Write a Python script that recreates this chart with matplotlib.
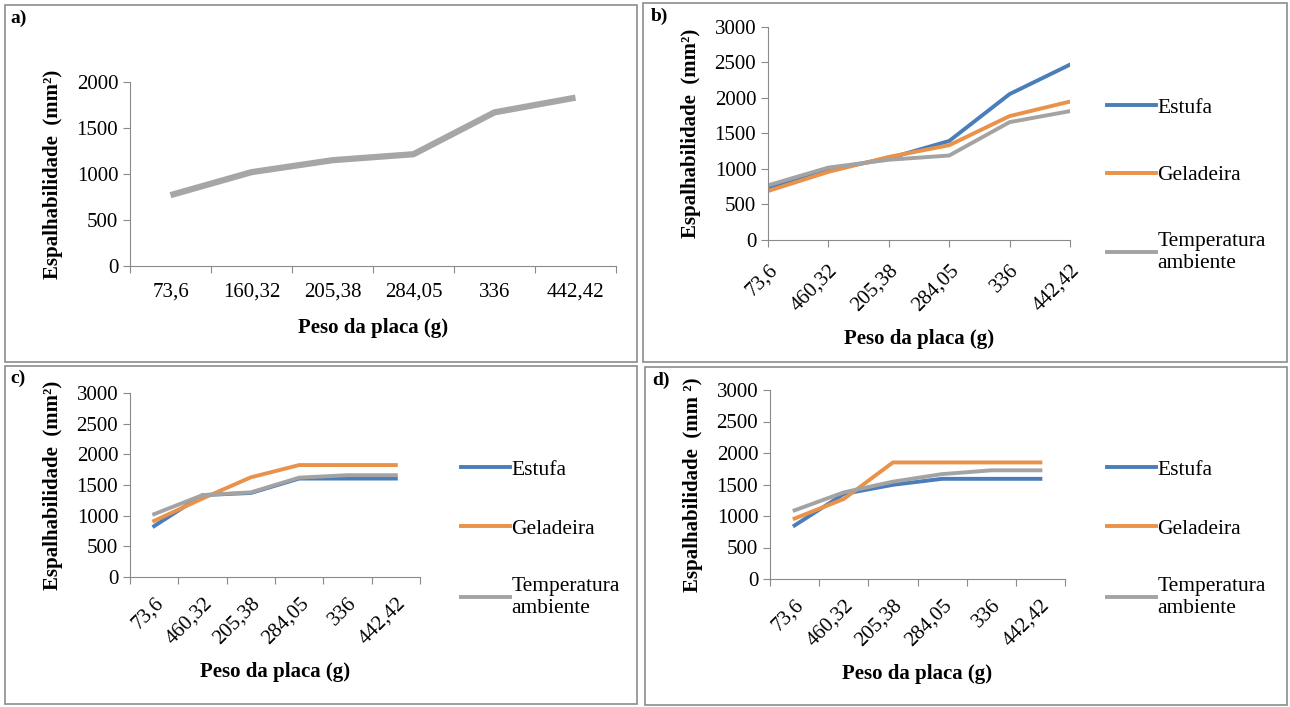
import matplotlib.pyplot as plt
import matplotlib.patches as patches
import numpy as np

# Data
pesos_a = ['73,6', '160,32', '205,38', '284,05', '336', '442,42']
pesos_bcd = ['73,6', '460,32', '205,38', '284,05', '336', '442,42']
series_names = ['Estufa', 'Geladeira', 'Temperatura\nambiente']

espalh_a = [770, 1020, 1150, 1215, 1670, 1830]

estufa_b = [740, 990, 1150, 1395, 2055, 2470]
geladeira_b = [690, 960, 1170, 1335, 1745, 1950]
temp_b = [770, 1020, 1130, 1190, 1660, 1815]

estufa_c = [830, 1335, 1370, 1605, 1605, 1605]
geladeira_c = [915, 1280, 1625, 1825, 1825, 1825]
temp_c = [1025, 1335, 1380, 1620, 1660, 1660]

estufa_d = [850, 1350, 1495, 1590, 1590, 1590]
geladeira_d = [960, 1270, 1850, 1850, 1850, 1850]
temp_d = [1090, 1375, 1545, 1665, 1725, 1725]

colors = ['#4A7DBA', '#E8924A', '#A3A3A3']
W, H = 1290, 707
TICK = 15

plt.rcParams['font.family'] = ['Liberation Serif', 'DejaVu Serif']

fig = plt.figure(figsize=(W / 100, H / 100), dpi=100)

# panel frames (pixel boxes: left, top, right, bottom)
for l, t, r, b in [(5, 5, 637, 362), (643, 3, 1287, 362),
                   (5, 366, 637, 704), (645, 367, 1287, 705)]:
    fig.add_artist(patches.Rectangle((l / W, 1 - b / H), (r - l) / W, (b - t) / H,
                                     transform=fig.transFigure, fill=False,
                                     edgecolor='#8c8c8c', linewidth=1.2))


def make_axes(l, t, r, b):
    ax = fig.add_axes([l / W, 1 - b / H, (r - l) / W, (b - t) / H])
    ax.spines[['top', 'right']].set_visible(False)
    ax.spines[['bottom', 'left']].set_color('#8a8a8a')
    ax.tick_params(colors='#8a8a8a', labelcolor='black', labelsize=TICK, length=5)
    return ax


def between_ticks(ax, labels, rotate):
    # Excel style: tick marks between categories, labels at the centres
    ax.set_xlim(-0.5, len(labels) - 0.5)
    ax.set_xticks(np.arange(-0.5, len(labels), 1))
    ax.set_xticklabels([])
    ax.set_xticks(range(len(labels)), minor=True)
    if rotate:
        ax.set_xticklabels(labels, minor=True, rotation=45, ha='right', rotation_mode='anchor')
    else:
        ax.set_xticklabels(labels, minor=True)
    ax.tick_params(axis='x', which='minor', length=0, labelsize=TICK, pad=12)


def add_legend(ax, x, y, spacing):
    ax.legend(loc='upper left', bbox_to_anchor=(x / W, 1 - y / H),
              bbox_transform=fig.transFigure, frameon=False, fontsize=15.5,
              handlelength=2.3, handletextpad=0.05, labelspacing=spacing,
              borderaxespad=0)


ylabel = 'Espalhabilidade  (mm²)'

# a)
ax = make_axes(130, 82, 616, 266)
ax.plot(range(6), espalh_a, color='#A6A6A6', linewidth=4.5, solid_capstyle='butt')
ax.set_ylim(0, 2000)
ax.set_yticks(range(0, 2001, 500))
between_ticks(ax, pesos_a, False)
ax.set_ylabel(ylabel, fontsize=15, fontweight='bold', labelpad=10)
ax.set_xlabel('Peso da placa (g)', fontsize=15, fontweight='bold', labelpad=12)

# b)
ax = make_axes(768, 27, 1070, 240)
for vals, name, c in zip([estufa_b, geladeira_b, temp_b], series_names, colors):
    ax.plot(range(6), vals, color=c, linewidth=2.8, label=name)
ax.set_ylim(0, 3000)
ax.set_yticks(range(0, 3001, 500))
ax.set_xlim(0, 5)
ax.set_xticks(range(6))
ax.set_xticklabels(pesos_bcd, rotation=45, ha='right', rotation_mode='anchor')
ax.tick_params(axis='x', pad=10)
ax.set_ylabel(ylabel, fontsize=15, fontweight='bold', labelpad=10)
ax.set_xlabel('Peso da placa (g)', fontsize=15, fontweight='bold', labelpad=10)
add_legend(ax, 1098, 89, 2.2)

# c)
ax = make_axes(130, 393, 420, 577)
for vals, name, c in zip([estufa_c, geladeira_c, temp_c], series_names, colors):
    ax.plot(range(6), vals, color=c, linewidth=2.8, label=name)
ax.set_ylim(0, 3000)
ax.set_yticks(range(0, 3001, 500))
between_ticks(ax, pesos_bcd, True)
ax.set_ylabel(ylabel, fontsize=15, fontweight='bold', labelpad=10)
ax.set_xlabel('Peso da placa (g)', fontsize=15, fontweight='bold', labelpad=10)
add_legend(ax, 452, 451, 1.8)

# d)
ax = make_axes(770, 390, 1065, 579)
for vals, name, c in zip([estufa_d, geladeira_d, temp_d], series_names, colors):
    ax.plot(range(6), vals, color=c, linewidth=2.8, label=name)
ax.set_ylim(0, 3000)
ax.set_yticks(range(0, 3001, 500))
between_ticks(ax, pesos_bcd, True)
ax.set_ylabel('Espalhabilidade  (mm ²)', fontsize=15, fontweight='bold', labelpad=10)
ax.set_xlabel('Peso da placa (g)', fontsize=15, fontweight='bold', labelpad=10)
add_legend(ax, 1098, 451, 1.8)

# panel letters
for letter, (x, y) in zip('abcd', [(10, 18), (651, 16), (10, 378), (652, 380)]):
    fig.text(x / W, 1 - y / H, letter + ')', fontsize=14, fontweight='bold', va='center')

fig.savefig('out.png', dpi=100)
